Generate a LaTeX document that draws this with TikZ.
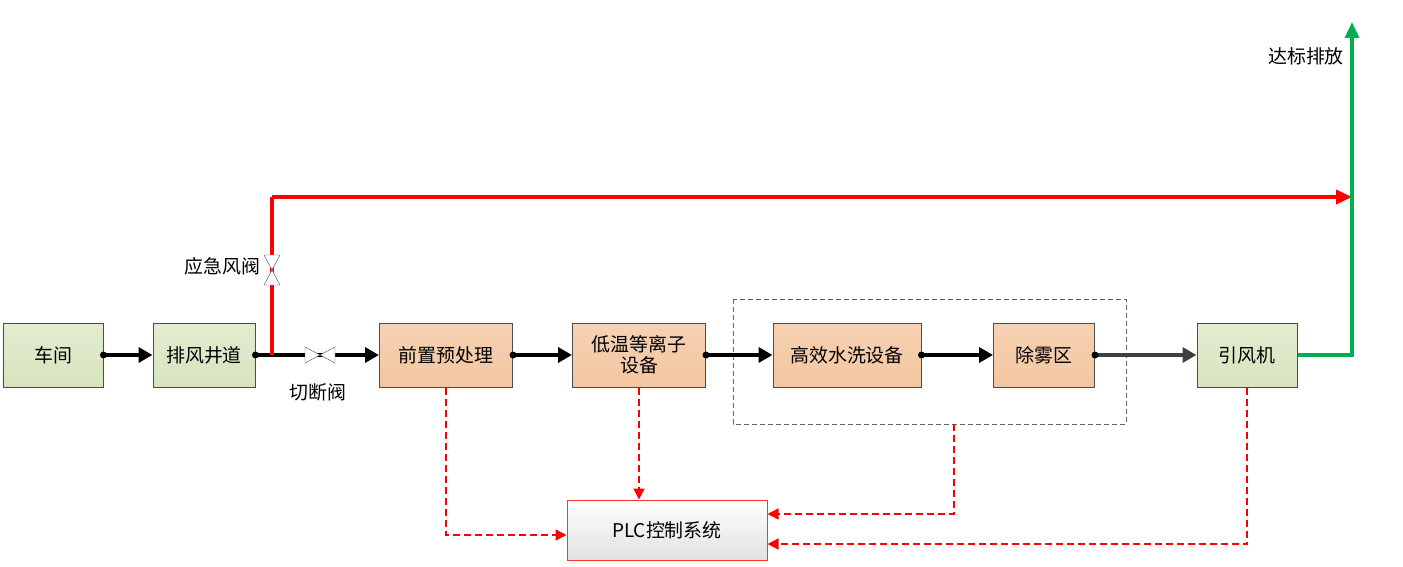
\documentclass[tikz,border=0pt]{standalone}
\usepackage{fontspec}
\setmainfont{Noto Sans CJK SC}
\usetikzlibrary{arrows.meta}
\definecolor{boxgreen}{HTML}{D7E4BD}
\definecolor{boxorange}{HTML}{F4C6A0}
\definecolor{flowgreen}{HTML}{00B050}
\tikzset{
  stage/.style={draw=black!70, line width=1pt, minimum height=64bp, inner sep=0pt, font=\fontsize{19}{21}\selectfont},
  gbox/.style={stage, top color=boxgreen!70, bottom color=boxgreen},
  obox/.style={stage, top color=boxorange!80, bottom color=boxorange, align=center},
  flow/.style={line width=4.5pt, -{Triangle[length=14bp,width=15bp]}},
  ctrl/.style={red, line width=1.4pt, dash pattern=on 7bp off 4bp, -{Triangle[length=11bp,width=11bp]}},
  lbl/.style={font=\fontsize{19}{19}\selectfont}
}
\begin{document}
\begin{tikzpicture}[x=1bp,y=-1bp]
\useasboundingbox (0,0) rectangle (1403,567);
\node[gbox, minimum width=100bp] (shop) at (53,355) {车间};
\node[gbox, minimum width=102bp] (shaft) at (204,355) {排风井道};
\node[obox, minimum width=133bp] (pre) at (446,355) {前置预处理};
\node[obox, minimum width=133bp] (plasma) at (639,355) {低温等离子\\设备};
\node[obox, minimum width=148bp] (wash) at (847,355) {高效水洗设备};
\node[obox, minimum width=101bp] (mist) at (1044,355) {除雾区};
\node[gbox, minimum width=100bp] (fan) at (1247,355) {引风机};
\node[draw=red!80, line width=1pt, top color=white, bottom color=black!12, minimum width=200bp, minimum height=60bp,
  font=\fontsize{19}{19}\selectfont] (plc) at (667,530) {PLC控制系统};
\draw[line width=1pt, black!60, dash pattern=on 5bp off 3bp] (733,299) rectangle (1126,424);
\coordinate (wetbox) at (954,424);
% main flow
\coordinate (tee) at (272,355);
\coordinate (valve) at (320,355);
\draw[flow] (shop.east) -- (shaft.west);
\draw[line width=4.5pt] (shaft.east) -- (valve);
\draw[flow] (valve) -- (pre.west);
\draw[flow] (pre.east) -- (plasma.west);
\draw[flow] (plasma.east) -- (wash.west);
\draw[flow] (wash.east) -- (mist.west);
\draw[flow, black!75] (mist.east) -- (fan.west);
\foreach \n in {shop,shaft,pre,plasma,wash,mist}
  \fill (\n.east) circle (3.5bp);
% emergency bypass
\coordinate (bend) at (272,197);
\coordinate (join) at (1352,197);
\draw[red, line width=3.5pt] (tee) -- (bend);
\draw[red, line width=3.5pt, -{Triangle[length=16bp,width=14bp]}] (bend) -- (join);
\coordinate (outlet) at (1352,355);
\coordinate (stack) at (1352,22);
\draw[flowgreen, line width=3.5pt, -{Triangle[length=16bp,width=14bp]}] (fan.east) -- (outlet) -- (stack);
% valves
\coordinate (evalve) at (272,270);
\draw[black!70, fill=white] (evalve) -- ++(-8,-15) -- ++(16,0) -- cycle;
\draw[black!70, fill=white] (evalve) -- ++(-8,15) -- ++(16,0) -- cycle;
\draw[black!70, fill=white] (valve) -- ++(-15,-8) -- ++(0,16) -- cycle;
\draw[black!70, fill=white] (valve) -- ++(15,-8) -- ++(0,16) -- cycle;
\node[lbl, anchor=east] at (264,266) {应急风阀};
\node[lbl] at (318,392) {切断阀};
\node[lbl] at (1306,56) {达标排放};
% control lines
\draw[ctrl] (pre.south) |- ([yshift=-5bp]plc.west);
\draw[ctrl] (plasma.south) -- (plasma.south |- plc.north);
\draw[ctrl] (wetbox) |- ([yshift=16bp]plc.east);
\draw[ctrl] (fan.south) |- ([yshift=-14bp]plc.east);
\end{tikzpicture}
\end{document}
